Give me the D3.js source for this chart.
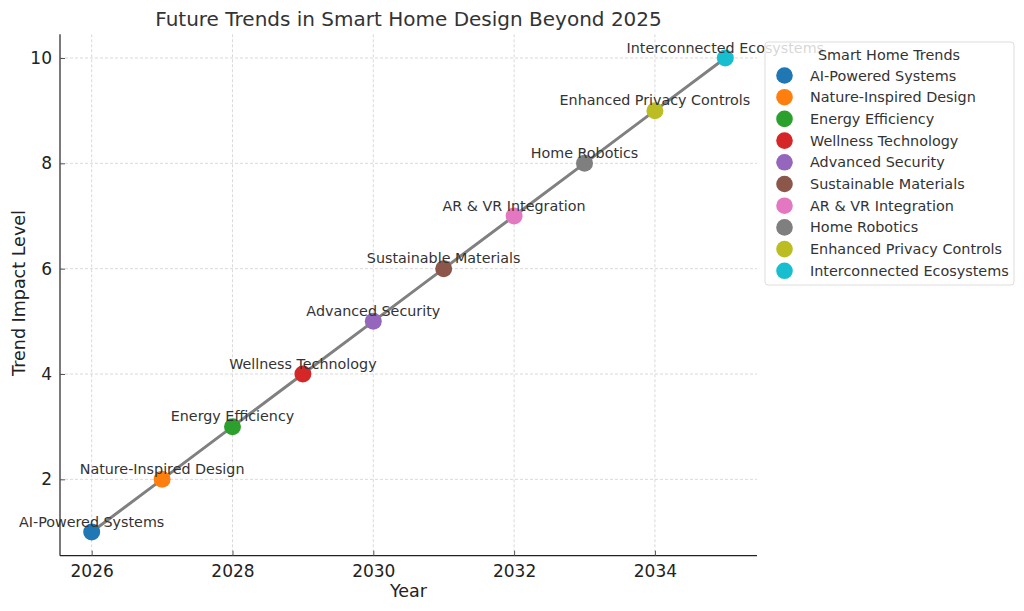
<!DOCTYPE html>
<html><head><meta charset="utf-8">
<script src="https://cdn.jsdelivr.net/npm/d3@7"></script>
<style>body{margin:0;background:#fff}svg{display:block;font-family:"DejaVu Sans",sans-serif}</style>
</head><body><svg id="c" width="1024" height="611"></svg>
<script>
const trends = ["AI-Powered Systems","Nature-Inspired Design","Energy Efficiency","Wellness Technology","Advanced Security","Sustainable Materials","AR & VR Integration","Home Robotics","Enhanced Privacy Controls","Interconnected Ecosystems"];
const years = [2026,2027,2028,2029,2030,2031,2032,2033,2034,2035];
const impact = [1,2,3,4,5,6,7,8,9,10];
const colors = ["#1f77b4","#ff7f0e","#2ca02c","#d62728","#9467bd","#8c564b","#e377c2","#7f7f7f","#bcbd22","#17becf"];
const xTicks = [2026,2028,2030,2032,2034];
const yTicks = [2,4,6,8,10];

const svg = d3.select("#c");
const L=60,R=757,T=34.3,B=555.7;
const x = d3.scaleLinear().domain([2025.55,2035.45]).range([L,R]);
const y = d3.scaleLinear().domain([0.55,10.45]).range([B,T]);

const g = svg.append("g");
g.selectAll(".gx").data(xTicks).join("line").attr("x1",d=>x(d)).attr("x2",d=>x(d)).attr("y1",T).attr("y2",B)
 .attr("stroke","#cfcfcf").attr("stroke-width",0.8).attr("stroke-dasharray","3,2");
g.selectAll(".gy").data(yTicks).join("line").attr("y1",d=>y(d)).attr("y2",d=>y(d)).attr("x1",L).attr("x2",R)
 .attr("stroke","#cfcfcf").attr("stroke-width",0.8).attr("stroke-dasharray","3,2");

const xa = svg.append("g").attr("transform",`translate(0,${B})`).call(d3.axisBottom(x).tickValues(xTicks).tickFormat(d3.format("d")).tickSize(-5).tickPadding(9));
const ya = svg.append("g").attr("transform",`translate(${L},0)`).call(d3.axisLeft(y).tickValues(yTicks).tickFormat(d3.format("d")).tickSize(-5).tickPadding(8));
[xa,ya].forEach(a=>{
  a.select(".domain").attr("stroke","#222").attr("stroke-width",1.2).attr("d", a===xa?`M${L},0H${R}`:`M0,${T}V${B}`);
  a.selectAll(".tick line").attr("stroke","#555");
  a.selectAll(".tick text").attr("font-size",17).attr("fill","#222").attr("font-family","DejaVu Sans");
});

const pts = years.map((yr,i)=>({yr,v:impact[i],name:trends[i],c:colors[i]}));
svg.append("path").datum(pts).attr("fill","none").attr("stroke","#808080").attr("stroke-width",3)
 .attr("d",d3.line().x(d=>x(d.yr)).y(d=>y(d.v)));
svg.selectAll(".pt").data(pts).join("circle").attr("cx",d=>x(d.yr)).attr("cy",d=>y(d.v)).attr("r",8.5).attr("fill",d=>d.c);
svg.selectAll(".lab").data(pts).join("text").attr("x",d=>x(d.yr)).attr("y",d=>y(d.v)-5.5)
 .attr("text-anchor","middle").attr("font-size",14.3).attr("fill","#333").text(d=>d.name);

svg.append("text").attr("x",408.5).attr("y",26).attr("text-anchor","middle").attr("font-size",20).attr("fill","#333").text("Future Trends in Smart Home Design Beyond 2025");
svg.append("text").attr("x",408.5).attr("y",597).attr("text-anchor","middle").attr("font-size",17.5).attr("fill","#222").text("Year");
svg.append("text").attr("transform","translate(24.5,293) rotate(-90)").attr("text-anchor","middle").attr("font-size",17.5).attr("fill","#222").text("Trend Impact Level");

const lg = svg.append("g");
lg.append("rect").attr("x",765).attr("y",42).attr("width",249).attr("height",243).attr("rx",3)
 .attr("fill","#fff").attr("fill-opacity",0.8).attr("stroke","#ddd").attr("stroke-width",1);
lg.append("text").attr("x",889).attr("y",59.5).attr("text-anchor","middle").attr("font-size",14.4).attr("fill","#333").text("Smart Home Trends");
const le = lg.selectAll(".le").data(pts).join("g").attr("transform",(d,i)=>`translate(0,${75.5+i*21.7})`);
le.append("circle").attr("cx",784.5).attr("cy",0).attr("r",8.3).attr("fill",d=>d.c);
le.append("text").attr("x",810).attr("y",5).attr("font-size",14.4).attr("fill","#333").text(d=>d.name);
</script></body></html>
